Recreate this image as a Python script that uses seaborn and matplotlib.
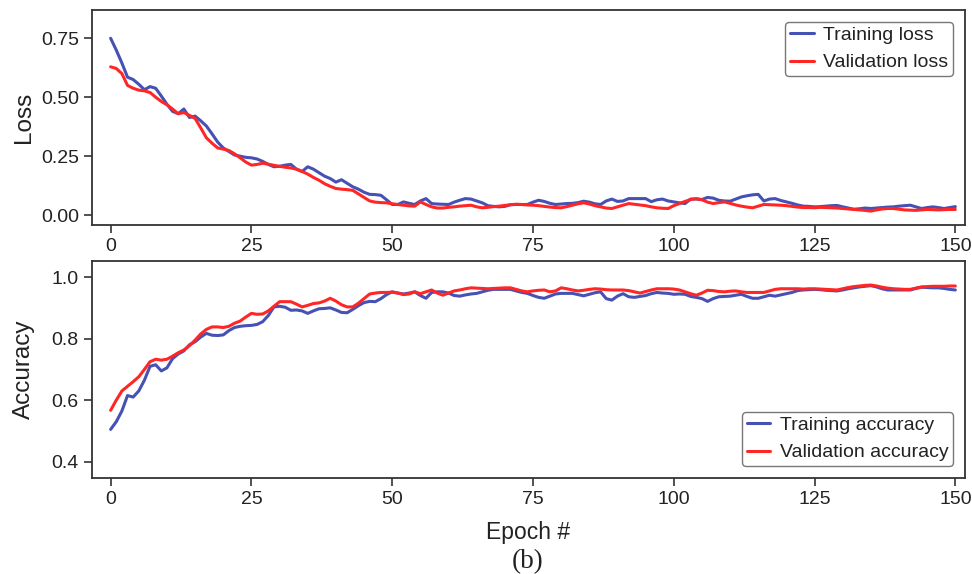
import matplotlib
matplotlib.use("Agg")
import matplotlib.pyplot as plt
import seaborn as sns
import numpy as np
import pandas as pd
from matplotlib.lines import Line2D

epochs = list(range(151))

train_loss = [
    0.750, 0.700, 0.645, 0.585, 0.575, 0.555, 0.532, 0.545, 0.538, 0.505,
    0.470, 0.440, 0.430, 0.450, 0.414, 0.420, 0.400, 0.378, 0.345, 0.310,
    0.285, 0.270, 0.255, 0.250, 0.245, 0.243, 0.238, 0.228, 0.215, 0.205,
    0.207, 0.212, 0.215, 0.195, 0.185, 0.205, 0.195, 0.180, 0.165, 0.155,
    0.140, 0.150, 0.135, 0.120, 0.110, 0.097, 0.088, 0.087, 0.084, 0.065,
    0.045, 0.045, 0.056, 0.050, 0.045, 0.060, 0.070, 0.049, 0.047, 0.046,
    0.045, 0.055, 0.063, 0.070, 0.068, 0.060, 0.052, 0.040, 0.037, 0.035,
    0.037, 0.044, 0.045, 0.045, 0.045, 0.055, 0.063, 0.058, 0.050, 0.045,
    0.047, 0.049, 0.050, 0.053, 0.059, 0.055, 0.048, 0.045, 0.060, 0.068,
    0.058, 0.060, 0.070, 0.070, 0.070, 0.070, 0.057, 0.065, 0.068, 0.060,
    0.056, 0.052, 0.049, 0.068, 0.068, 0.066, 0.075, 0.072, 0.063, 0.060,
    0.059, 0.068, 0.077, 0.082, 0.086, 0.088, 0.060, 0.068, 0.070, 0.062,
    0.056, 0.050, 0.043, 0.038, 0.037, 0.035, 0.036, 0.038, 0.040, 0.041,
    0.035, 0.030, 0.025, 0.027, 0.030, 0.028, 0.030, 0.032, 0.034, 0.035,
    0.038, 0.040, 0.042, 0.035, 0.028, 0.032, 0.035, 0.032, 0.028, 0.032,
    0.036,
]

val_loss = [
    0.629, 0.622, 0.600, 0.550, 0.538, 0.530, 0.527, 0.520, 0.500, 0.482,
    0.468, 0.450, 0.430, 0.435, 0.423, 0.410, 0.370, 0.328, 0.305, 0.285,
    0.280, 0.274, 0.260, 0.243, 0.225, 0.212, 0.215, 0.220, 0.216, 0.211,
    0.207, 0.203, 0.200, 0.195, 0.185, 0.174, 0.160, 0.148, 0.133, 0.122,
    0.113, 0.110, 0.108, 0.105, 0.090, 0.075, 0.060, 0.055, 0.053, 0.052,
    0.048, 0.045, 0.042, 0.039, 0.038, 0.056, 0.045, 0.035, 0.030, 0.030,
    0.033, 0.035, 0.038, 0.040, 0.042, 0.035, 0.031, 0.033, 0.036, 0.038,
    0.041, 0.044, 0.046, 0.045, 0.043, 0.042, 0.040, 0.037, 0.034, 0.032,
    0.031, 0.036, 0.042, 0.048, 0.052, 0.047, 0.040, 0.035, 0.030, 0.028,
    0.035, 0.042, 0.049, 0.046, 0.043, 0.040, 0.035, 0.031, 0.029, 0.028,
    0.040, 0.049, 0.058, 0.066, 0.070, 0.065, 0.055, 0.049, 0.053, 0.056,
    0.050, 0.043, 0.038, 0.034, 0.031, 0.038, 0.045, 0.044, 0.043, 0.042,
    0.040, 0.037, 0.034, 0.032, 0.032, 0.031, 0.033, 0.032, 0.031, 0.030,
    0.028, 0.026, 0.024, 0.022, 0.020, 0.017, 0.022, 0.026, 0.028, 0.028,
    0.025, 0.022, 0.021, 0.020, 0.022, 0.024, 0.023, 0.022, 0.023, 0.024,
    0.024,
]

train_acc = [
    0.505, 0.530, 0.565, 0.615, 0.610, 0.630, 0.665, 0.710, 0.715, 0.695,
    0.705, 0.735, 0.750, 0.760, 0.780, 0.790, 0.805, 0.817, 0.811, 0.810,
    0.812, 0.826, 0.836, 0.840, 0.842, 0.843, 0.846, 0.855, 0.875, 0.903,
    0.905, 0.902, 0.892, 0.893, 0.890, 0.882, 0.890, 0.897, 0.898, 0.900,
    0.893, 0.885, 0.884, 0.895, 0.907, 0.917, 0.921, 0.920, 0.930, 0.943,
    0.952, 0.948, 0.945, 0.948, 0.952, 0.940, 0.931, 0.950, 0.952, 0.952,
    0.948, 0.940, 0.938, 0.942, 0.945, 0.947, 0.952, 0.957, 0.960, 0.960,
    0.960, 0.960, 0.955, 0.950, 0.947, 0.940, 0.934, 0.931, 0.938, 0.945,
    0.947, 0.947, 0.947, 0.943, 0.939, 0.944, 0.949, 0.952, 0.930, 0.925,
    0.938, 0.946, 0.936, 0.934, 0.937, 0.940, 0.946, 0.950, 0.948, 0.947,
    0.944, 0.945, 0.944, 0.937, 0.934, 0.930, 0.921, 0.930, 0.936, 0.937,
    0.938, 0.941, 0.944, 0.937, 0.931, 0.931, 0.936, 0.941, 0.938, 0.942,
    0.946, 0.950, 0.956, 0.958, 0.959, 0.960, 0.959, 0.957, 0.956, 0.955,
    0.958, 0.962, 0.965, 0.968, 0.970, 0.972, 0.968, 0.962, 0.958, 0.958,
    0.958, 0.958, 0.958, 0.963, 0.967, 0.966, 0.965, 0.965, 0.963, 0.960,
    0.958,
]

val_acc = [
    0.567, 0.600, 0.630, 0.645, 0.660, 0.676, 0.700, 0.725, 0.733, 0.730,
    0.733, 0.743, 0.754, 0.763, 0.777, 0.795, 0.815, 0.830, 0.838, 0.838,
    0.836, 0.840, 0.850, 0.857, 0.870, 0.882, 0.879, 0.880, 0.890, 0.905,
    0.920, 0.920, 0.920, 0.912, 0.903, 0.908, 0.914, 0.916, 0.922, 0.931,
    0.922, 0.910, 0.903, 0.903, 0.915, 0.930, 0.945, 0.948, 0.950, 0.950,
    0.951, 0.948, 0.943, 0.945, 0.952, 0.946, 0.952, 0.958, 0.948, 0.941,
    0.948, 0.955, 0.958, 0.962, 0.965, 0.964, 0.963, 0.962, 0.963, 0.964,
    0.965, 0.965, 0.960, 0.955, 0.952, 0.955, 0.957, 0.958, 0.952, 0.955,
    0.965, 0.962, 0.958, 0.955, 0.957, 0.960, 0.962, 0.961, 0.959, 0.958,
    0.958, 0.958, 0.956, 0.952, 0.948, 0.953, 0.958, 0.962, 0.962, 0.962,
    0.961, 0.958, 0.952, 0.946, 0.941, 0.948, 0.957, 0.956, 0.953, 0.952,
    0.954, 0.955, 0.952, 0.950, 0.950, 0.950, 0.950, 0.955, 0.960, 0.962,
    0.962, 0.962, 0.962, 0.961, 0.962, 0.962, 0.961, 0.960, 0.959, 0.958,
    0.962, 0.966, 0.969, 0.971, 0.973, 0.974, 0.971, 0.967, 0.964, 0.962,
    0.961, 0.960, 0.960, 0.964, 0.968, 0.969, 0.970, 0.970, 0.970, 0.971,
    0.971,
]

x_ticks = [0, 25, 50, 75, 100, 125, 150]
loss_ticks = [0.00, 0.25, 0.50, 0.75]
acc_ticks = [0.4, 0.6, 0.8, 1.0]

BLUE = "#4651b4"
RED = "#ff2626"

sns.set_theme(style="ticks")
plt.rcParams["font.family"] = ["Liberation Sans", "DejaVu Sans"]

fig = plt.figure(figsize=(9.72, 5.74), dpi=100)
ax1 = fig.add_axes([0.0947, 0.608, 0.898, 0.3746])
ax2 = fig.add_axes([0.0947, 0.1672, 0.898, 0.378])

loss_df = pd.DataFrame({
    "Epoch": epochs * 2,
    "value": train_loss + val_loss,
    "series": ["Training loss"] * len(epochs) + ["Validation loss"] * len(epochs),
})
acc_df = pd.DataFrame({
    "Epoch": epochs * 2,
    "value": train_acc + val_acc,
    "series": ["Training accuracy"] * len(epochs) + ["Validation accuracy"] * len(epochs),
})

sns.lineplot(data=loss_df, x="Epoch", y="value", hue="series",
             palette={"Training loss": BLUE, "Validation loss": RED},
             linewidth=2.2, ax=ax1, legend=False)
sns.lineplot(data=acc_df, x="Epoch", y="value", hue="series",
             palette={"Training accuracy": BLUE, "Validation accuracy": RED},
             linewidth=2.2, ax=ax2, legend=False)

for ax, ticks, ylim, ylabel, fmt, labels, loc in [
    (ax1, loss_ticks, (-0.042, 0.870), "Loss", "{:.2f}",
     ["Training loss", "Validation loss"], "upper right"),
    (ax2, acc_ticks, (0.347, 1.052), "Accuracy", "{:.1f}",
     ["Training accuracy", "Validation accuracy"], "lower right"),
]:
    ax.set_xlim(-3.3, 151.7)
    ax.set_ylim(*ylim)
    ax.set_xticks(x_ticks)
    ax.set_xticklabels([str(t) for t in x_ticks])
    ax.set_yticks(ticks)
    ax.set_yticklabels([fmt.format(t) for t in ticks])
    ax.set_ylabel(ylabel, fontsize=17.5, color="#222222")
    ax.yaxis.set_label_coords(-0.065, 0.5)
    ax.set_xlabel("")
    ax.tick_params(axis="both", labelsize=14, length=6, width=1.2,
                   colors="#333333", labelcolor="#222222", direction="out")
    for sp in ax.spines.values():
        sp.set_visible(True)
        sp.set_linewidth(1.3)
        sp.set_color("#333333")
    handles = [Line2D([], [], color=BLUE, lw=2.2), Line2D([], [], color=RED, lw=2.2)]
    leg = ax.legend(handles, labels, loc=loc, fontsize=14, frameon=True,
                    fancybox=True, handlelength=1.2, handletextpad=0.5,
                    borderpad=0.25, labelspacing=0.5, borderaxespad=0.6)
    leg.get_frame().set_edgecolor("#555555")
    leg.get_frame().set_linewidth(1.0)
    for t in leg.get_texts():
        t.set_color("#222222")

ax2.set_xlabel("Epoch #", fontsize=16.5, color="#222222", labelpad=9)
fig.text(0.543, 0.022, "(b)", fontsize=19.5, family=["Liberation Serif", "DejaVu Serif"],
         ha="center", va="center", color="#222222")

fig.savefig("out.png", dpi=100)
